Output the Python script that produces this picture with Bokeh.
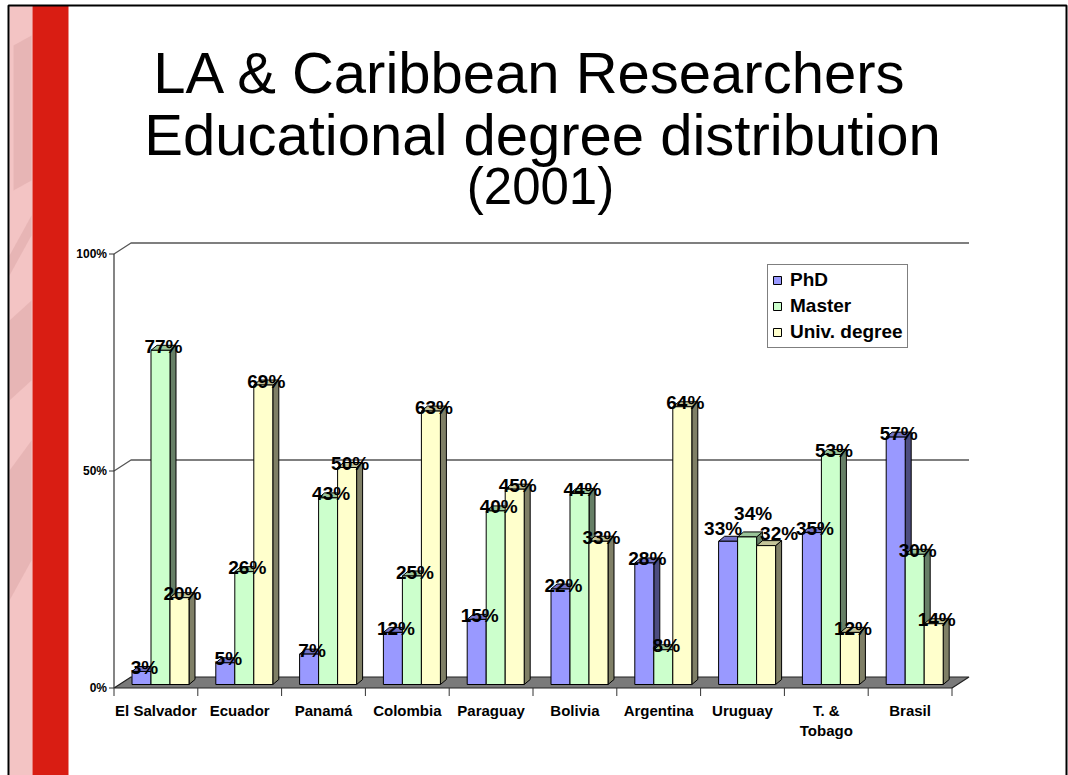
import numpy as np
from bokeh.plotting import figure
from bokeh.models import Range1d, Legend, LegendItem
from bokeh.core.properties import value
from bokeh.embed import file_html
from bokeh.resources import INLINE

# ---------------- data ----------------
title_lines = ["LA & Caribbean Researchers", "Educational degree distribution"]
subtitle = "(2001)"
countries = ["El Salvador", "Ecuador", "Panamá", "Colombia", "Paraguay",
             "Bolivia", "Argentina", "Uruguay", "T. &\nTobago", "Brasil"]
series_names = ["PhD", "Master", "Univ. degree"]
phd = [3, 5, 7, 12, 15, 22, 28, 33, 35, 57]
master = [77, 26, 43, 25, 40, 44, 8, 34, 53, 30]
univ = [20, 69, 50, 63, 45, 33, 64, 32, 12, 14]
y_ticks = [0, 50, 100]
y_tick_labels = ["0%", "50%", "100%"]

# ---------------- layout constants ----------------
W, H = 1068, 775
CAT_PX = 83.8      # pixels per category
VAL_PX = 434.0     # pixels per 100 %
X0_PX = 160.0      # screen x of first category centre (bar plane)
Y0_PX = 684.0      # screen y of value 0 (bar plane)
FONT = "Liberation Sans"

def sx(px):
    return (px - X0_PX) / CAT_PX

def sy(py):
    return (Y0_PX - py) / VAL_PX

def dx(px):
    return px / CAT_PX

def dy(py):
    return py / VAL_PX

p = figure(width=W, height=H, output_backend="svg", toolbar_location=None,
           x_range=Range1d(sx(0), sx(W)), y_range=Range1d(sy(H), sy(0)),
           min_border=0, x_axis_type=None, y_axis_type=None)
p.outline_line_color = None
p.background_fill_color = "white"
p.border_fill_color = "white"

# ---------------- slide decoration ----------------
p.quad(left=[sx(9)], right=[sx(32)], top=[sy(5)], bottom=[sy(H + 5)],
       fill_color="#F3C4C4", line_color=None)
deco_xs = [[sx(13), sx(31), sx(31), sx(13)],
           [sx(9), sx(31), sx(31), sx(9)],
           [sx(9), sx(31), sx(31), sx(9)],
           [sx(9), sx(31), sx(31), sx(9)]]
deco_ys = [[sy(45), sy(35), sy(180), sy(190)],
           [sy(255), sy(215), sy(235), sy(275)],
           [sy(320), sy(300), sy(380), sy(400)],
           [sy(470), sy(440), sy(560), sy(600)]]
p.patches(xs=deco_xs, ys=deco_ys, fill_color="#D9A3A3", fill_alpha=0.45, line_color=None)
p.quad(left=[sx(32)], right=[sx(68)], top=[sy(5)], bottom=[sy(H + 5)],
       fill_color="#D91D13", line_color=None)
p.quad(left=[sx(8)], right=[sx(1066)], top=[sy(5)], bottom=[sy(H + 5)],
       fill_color=None, line_color="black", line_width=2)

# ---------------- title ----------------
p.text(x=[sx(530), sx(542)], y=[sy(72), sy(134)], text=title_lines,
       text_font=value(FONT), text_font_size="58px", text_color="black",
       text_align="center", text_baseline="middle")
p.text(x=[sx(540)], y=[sy(186)], text=[subtitle],
       text_font=value(FONT), text_font_size="51px", text_color="black",
       text_align="center", text_baseline="middle")

# ---------------- 3-D frame ----------------
n = len(countries)
idx = np.arange(n)
FDX, FDY = dx(-4.6), dy(-3.5)   # front plane offset
BDX, BDY = dx(12.4), dy(7.5)    # back plane offset
left_b, right_b = -0.5, n - 0.5

# floor
p.patch(x=[left_b + FDX, right_b + FDX, right_b + BDX, left_b + BDX],
        y=[FDY, FDY, BDY, BDY], fill_color="#7A7A7A", line_color="#222222", line_width=1.2)

# back wall gridlines (50 %, 100 %)
for t in y_ticks[1:]:
    v = t / 100
    p.line(x=[left_b + FDX, left_b + BDX, right_b + BDX],
           y=[v + FDY, v + BDY, v + BDY], line_color="#555555", line_width=1.3)

# value axis
ax_x = left_b + FDX
p.line(x=[ax_x, ax_x], y=[FDY, 1 + FDY], line_color="#333333", line_width=1.2)
for t, lab in zip(y_ticks, y_tick_labels):
    v = t / 100
    p.line(x=[ax_x - dx(5), ax_x], y=[v + FDY, v + FDY], line_color="#333333", line_width=1)
p.text(x=[ax_x - dx(7)] * len(y_ticks), y=[t / 100 + FDY for t in y_ticks],
       text=y_tick_labels, text_font=value(FONT), text_font_style="bold",
       text_font_size="12px", text_align="right", text_baseline="middle", text_color="black")

# category axis ticks
tick_x = [k - 0.5 + FDX for k in range(n + 1)]
p.multi_line(xs=[[x, x] for x in tick_x], ys=[[FDY, FDY - dy(8)] for _ in tick_x],
             line_color="#333333", line_width=1)
cat_x, cat_y, cat_t = [], [], []
for i, c in enumerate(countries):
    for j, line in enumerate(c.split("\n")):
        cat_x.append(i + FDX)
        cat_y.append(FDY - dy(22) - j * dy(20))
        cat_t.append(line)
p.text(x=cat_x, y=cat_y, text=cat_t, text_font=value(FONT), text_font_style="bold",
       text_font_size="15px", text_align="center", text_baseline="middle", text_color="black")

# ---------------- bars ----------------
BAR_W = dx(19)
DX3, DY3 = dx(6), dy(5)
series = [phd, master, univ]
colors = [("#9999FF", "#7373C6", "#4D4D80"),
          ("#CCFFCC", "#99C499", "#667F66"),
          ("#FFFFCC", "#C4C499", "#7F7F66")]
label_nudge = {(7, 0): (-8, 9), (7, 1): (3, 19), (7, 2): (10, 8)}   # pixels

fronts = []
lab_x, lab_y, lab_t = [], [], []
for s, (vals, (cf, ct, cs)) in enumerate(zip(series, colors)):
    h = np.array(vals) / 100.0
    xc = idx + (s - 1) * BAR_W
    x0 = xc - BAR_W / 2
    x1 = xc + BAR_W / 2
    side_xs = [[a, a + DX3, a + DX3, a] for a in x1]
    side_ys = [[0, DY3, b + DY3, b] for b in h]
    top_xs = [[a, b, b + DX3, a + DX3] for a, b in zip(x0, x1)]
    top_ys = [[b, b, b + DY3, b + DY3] for b in h]
    p.patches(xs=side_xs, ys=side_ys, fill_color=cs, line_color="black", line_width=1)
    p.patches(xs=top_xs, ys=top_ys, fill_color=ct, line_color="black", line_width=1)
    r = p.quad(left=x0, right=x1, bottom=0, top=h, fill_color=cf,
               line_color="black", line_width=1)
    fronts.append(r)
    for i in range(n):
        nx, ny = label_nudge.get((i, s), (0, 0))
        lab_x.append(xc[i] + DX3 / 2 + dx(nx))
        lab_y.append(h[i] + dy(4) + dy(ny))
        lab_t.append(f"{vals[i]}%")

p.text(x=lab_x, y=lab_y, text=lab_t, text_font=value(FONT), text_font_style="bold",
       text_font_size="19px", text_align="center", text_baseline="middle", text_color="black")

# ---------------- legend ----------------
legend = Legend(items=[LegendItem(label=nm, renderers=[r]) for nm, r in zip(series_names, fronts)],
                location=(767, H - 348), orientation="vertical",
                label_text_font=FONT, label_text_font_style="bold", label_text_font_size="19px",
                label_text_color="black", glyph_width=10, glyph_height=10, label_standoff=8,
                label_height=20, spacing=4, padding=4, margin=0,
                border_line_color="black", border_line_width=1,
                background_fill_color="white", background_fill_alpha=1)
p.add_layout(legend)

open("out.html", "w").write(file_html(p, INLINE))
